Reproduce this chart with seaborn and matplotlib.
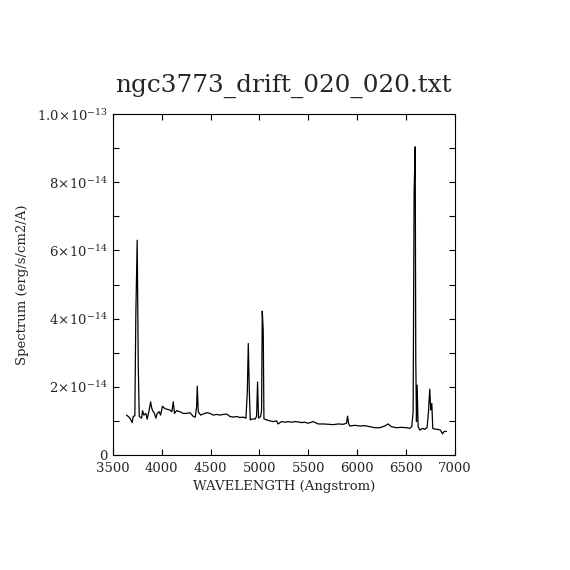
"""
Recreate the PGPLOT-style spectrum plot of ngc3773_drift_020_020.txt.
Values were read off the reference picture by eye (flux in 1e-14 erg/s/cm2/A).
"""

import matplotlib

matplotlib.use("Agg")
import matplotlib.pyplot as plt
import pandas as pd
import seaborn as sns

FLUX_UNIT = 1e-14

WAVELENGTH = [
    3640, 3657, 3674, 3698, 3708, 3725, 3735, 3749, 3760, 3770,
    3794, 3804, 3817, 3838, 3851, 3872, 3886, 3899, 3913, 3926,
    3940, 3954, 3974, 3988, 4008, 4032, 4056, 4083, 4104, 4118,
    4131, 4152, 4186, 4220, 4254, 4289, 4323, 4343, 4357, 4364,
    4374, 4398, 4425, 4459, 4494, 4528, 4562, 4596, 4630, 4664,
    4698, 4732, 4766, 4800, 4835, 4862, 4876, 4886, 4896, 4906,
    4930, 4954, 4971, 4981, 4991, 5012, 5022, 5029, 5039, 5046,
    5073, 5107, 5141, 5175, 5192, 5226, 5260, 5294, 5329, 5363,
    5397, 5431, 5465, 5499, 5550, 5601, 5653, 5704, 5755, 5806,
    5857, 5891, 5902, 5912, 5925, 5976, 6028, 6079, 6130, 6181,
    6232, 6283, 6317, 6351, 6403, 6454, 6505, 6539, 6559, 6573,
    6583, 6594, 6600, 6607, 6614, 6624, 6641, 6668, 6692, 6716,
    6730, 6743, 6753, 6764, 6774, 6794, 6828, 6852, 6873, 6890,
    6914,
]

FLUX = [
    1.17, 1.13, 1.08, 0.95, 1.13, 1.15, 4.10, 6.30, 2.60, 1.13,
    1.08, 1.30, 1.17, 1.22, 1.05, 1.32, 1.56, 1.36, 1.27, 1.22,
    1.08, 1.22, 1.27, 1.17, 1.43, 1.36, 1.34, 1.32, 1.27, 1.56,
    1.22, 1.30, 1.27, 1.22, 1.22, 1.24, 1.13, 1.11, 1.42, 2.02,
    1.27, 1.17, 1.20, 1.24, 1.22, 1.17, 1.19, 1.17, 1.19, 1.20,
    1.13, 1.11, 1.13, 1.10, 1.11, 1.08, 1.86, 3.27, 1.91, 1.03,
    1.06, 1.05, 1.13, 2.14, 1.08, 1.13, 1.32, 4.22, 3.64, 1.06,
    1.03, 1.00, 0.98, 1.00, 0.91, 0.98, 0.96, 0.98, 0.96, 0.98,
    0.97, 0.95, 0.96, 0.93, 0.98, 0.91, 0.91, 0.90, 0.89, 0.91,
    0.90, 0.93, 1.14, 0.93, 0.85, 0.87, 0.85, 0.86, 0.83, 0.80,
    0.80, 0.85, 0.91, 0.83, 0.80, 0.81, 0.80, 0.78, 0.83, 1.27,
    7.72, 9.04, 2.79, 0.98, 2.05, 0.83, 0.73, 0.78, 0.75, 0.81,
    1.27, 1.93, 1.32, 1.51, 0.78, 0.76, 0.75, 0.73, 0.62, 0.69,
    0.69,
]

X_TICKS = [3500, 4000, 4500, 5000, 5500, 6000, 6500, 7000]
Y_TICKS = [0, 2e-14, 4e-14, 6e-14, 8e-14, 1e-13]
Y_TICK_LABELS = [
    "0",
    r"$2\!\times\!10^{-14}$",
    r"$4\!\times\!10^{-14}$",
    r"$6\!\times\!10^{-14}$",
    r"$8\!\times\!10^{-14}$",
    r"$1.0\!\times\!10^{-13}$",
]
TITLE = "ngc3773_drift_020_020.txt"


def main():
    sns.set_style("ticks")
    plt.rcParams["font.family"] = ["DejaVu Serif"]
    plt.rcParams["mathtext.fontset"] = "dejavuserif"

    df = pd.DataFrame({"wavelength": WAVELENGTH,
                       "flux": [f * FLUX_UNIT for f in FLUX]})

    fig = plt.figure(figsize=(5.7, 5.7), dpi=100)
    ax = fig.add_axes([0.198, 0.2018, 0.6, 0.598])
    sns.lineplot(data=df, x="wavelength", y="flux", ax=ax, color="black",
                 linewidth=0.9, estimator=None, sort=False)

    ax.set_xlim(3500, 7000)
    ax.set_ylim(0, 1e-13)
    ax.set_xticks(X_TICKS)
    ax.set_yticks(Y_TICKS, Y_TICK_LABELS)
    ax.set_yticks([1e-14, 3e-14, 5e-14, 7e-14, 9e-14], minor=True)
    ax.tick_params(which="both", direction="in", top=True, right=True,
                   length=4.5, width=0.8, labelsize=9.5, color="black")
    ax.tick_params(axis="x", pad=5)
    for spine in ax.spines.values():
        spine.set_linewidth(0.8)
        spine.set_color("black")

    ax.set_xlabel("WAVELENGTH (Angstrom)", fontsize=9.5, labelpad=4)
    ax.set_ylabel("Spectrum (erg/s/cm2/A)", fontsize=9.5, labelpad=6)
    ax.set_title(TITLE, fontsize=17.8, pad=16)

    fig.savefig("out.png", dpi=100)
    plt.close(fig)


if __name__ == "__main__":
    main()
